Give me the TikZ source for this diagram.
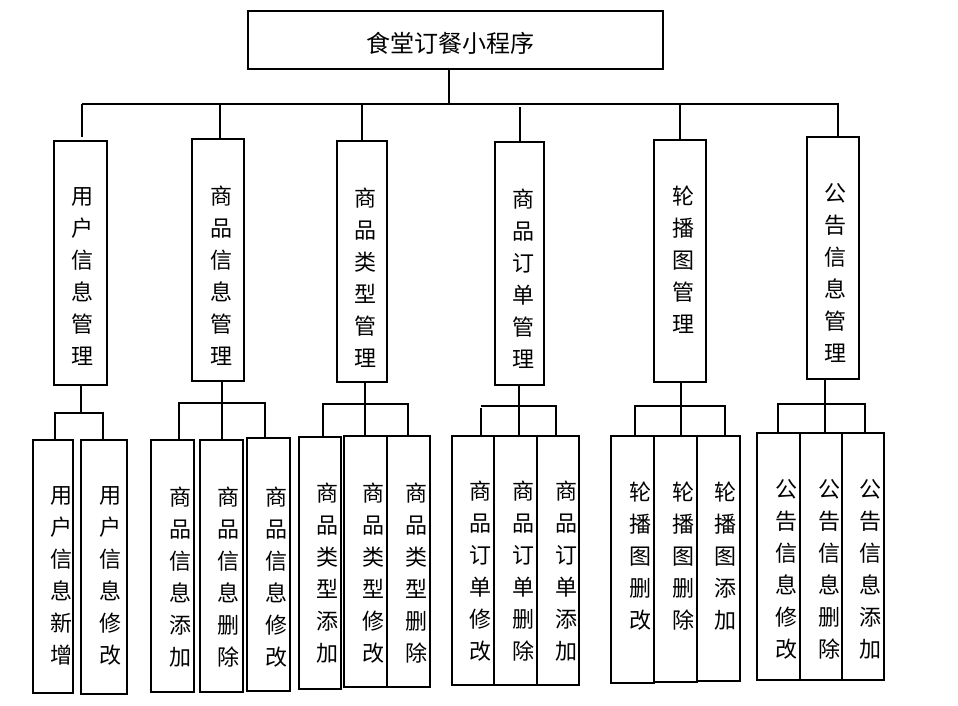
\documentclass[tikz,border=0pt]{standalone}
\usepackage{fontspec}
\newfontfamily\cjk{Noto Sans CJK SC}
\begin{document}
\begin{tikzpicture}[x=1pt,y=-1pt,
  box/.style={draw, line width=2.6pt, inner sep=0pt, fill=none},
  lbl/.style={font=\cjk\fontsize{22}{32}\selectfont, align=center, inner sep=0pt},
  ttl/.style={font=\cjk\fontsize{24}{28}\selectfont, inner sep=0pt},
  conn/.style={line width=2.6pt}]
\useasboundingbox (0,0) rectangle (958,705);
% top
\node[box, minimum width=415pt, minimum height=58pt] (top) at (455.5,40) {};
\node[ttl] (ttop) at (450,43) {食堂订餐小程序};
% level 2
\node[box, minimum width=53pt, minimum height=244pt] (b1) at (80.5,263) {};
\node[box, minimum width=52pt, minimum height=242pt] (b2) at (218,260) {};
\node[box, minimum width=50pt, minimum height=241pt] (b3) at (362,261.5) {};
\node[box, minimum width=49pt, minimum height=243pt] (b4) at (519.5,263.5) {};
\node[box, minimum width=52pt, minimum height=242pt] (b5) at (680,261) {};
\node[box, minimum width=52pt, minimum height=242pt] (b6) at (833,258) {};
\node[lbl] (t1) at (82,276.5) {用\\户\\信\\息\\管\\理};
\node[lbl] (t2) at (221,276) {商\\品\\信\\息\\管\\理};
\node[lbl] (t3) at (365,277.5) {商\\品\\类\\型\\管\\理};
\node[lbl] (t4) at (523,279) {商\\品\\订\\单\\管\\理};
\node[lbl] (t5) at (683,259.5) {轮\\播\\图\\管\\理};
\node[lbl] (t6) at (835,272.5) {公\\告\\信\\息\\管\\理};
% level 3 boxes
\node[box, minimum width=40pt, minimum height=253pt] (c1a) at (53,566.5) {};
\node[box, minimum width=46pt, minimum height=254pt] (c1b) at (104,567) {};
\node[box, minimum width=43pt, minimum height=252pt] (c2a) at (172.5,566) {};
\node[box, minimum width=43pt, minimum height=252pt] (c2b) at (221.5,566) {};
\node[box, minimum width=43pt, minimum height=253pt] (c2c) at (268.5,564.5) {};
\node[box, minimum width=42pt, minimum height=252pt] (c3a) at (320,563) {};
\node[box, minimum width=43pt, minimum height=251pt] (c3b) at (365.5,561.5) {};
\node[box, minimum width=43pt, minimum height=251pt] (c3c) at (408.5,561.5) {};
\node[box, minimum width=42pt, minimum height=249pt] (c4a) at (473,560.5) {};
\node[box, minimum width=43pt, minimum height=249pt] (c4b) at (515.5,560.5) {};
\node[box, minimum width=42pt, minimum height=249pt] (c4c) at (558,560.5) {};
\node[box, minimum width=43pt, minimum height=247pt] (c5a) at (632.5,559.5) {};
\node[box, minimum width=43pt, minimum height=246pt] (c5b) at (675.5,559) {};
\node[box, minimum width=43pt, minimum height=245pt] (c5c) at (718.5,558.5) {};
\node[box, minimum width=43pt, minimum height=247pt] (c6a) at (778.5,556.5) {};
\node[box, minimum width=42pt, minimum height=247pt] (c6b) at (821,556.5) {};
\node[box, minimum width=42pt, minimum height=247pt] (c6c) at (863,556.5) {};
% level 3 labels
\node[lbl] (u1a) at (61,576) {用\\户\\信\\息\\新\\增};
\node[lbl] (u1b) at (110,576) {用\\户\\信\\息\\修\\改};
\node[lbl] (u2a) at (180,577) {商\\品\\信\\息\\添\\加};
\node[lbl] (u2b) at (228,577) {商\\品\\信\\息\\删\\除};
\node[lbl] (u2c) at (276,577) {商\\品\\信\\息\\修\\改};
\node[lbl] (u3a) at (327,573.5) {商\\品\\类\\型\\添\\加};
\node[lbl] (u3b) at (373,573.5) {商\\品\\类\\型\\修\\改};
\node[lbl] (u3c) at (416,573.5) {商\\品\\类\\型\\删\\除};
\node[lbl] (u4a) at (480,571.5) {商\\品\\订\\单\\修\\改};
\node[lbl] (u4b) at (523,571.5) {商\\品\\订\\单\\删\\除};
\node[lbl] (u4c) at (566,571.5) {商\\品\\订\\单\\添\\加};
\node[lbl] (u5a) at (640,556) {轮\\播\\图\\删\\改};
\node[lbl] (u5b) at (683,556) {轮\\播\\图\\删\\除};
\node[lbl] (u5c) at (725,556) {轮\\播\\图\\添\\加};
\node[lbl] (u6a) at (786,569) {公\\告\\信\\息\\修\\改};
\node[lbl] (u6b) at (829,569) {公\\告\\信\\息\\删\\除};
\node[lbl] (u6c) at (870,569) {公\\告\\信\\息\\添\\加};
% top bus
\coordinate (j0) at (449,104);
\coordinate (busL) at (82,104);
\coordinate (busR) at (839,104);
\coordinate (s1) at (82,104);
\coordinate (s2) at (220,104);
\coordinate (s3) at (362,104);
\coordinate (s4) at (520,107);
\coordinate (s5) at (680,104);
\coordinate (s6) at (838,104);
\draw[conn] (top.south -| j0) -- (j0);
\draw[conn] (busL) -- (busR);
\draw[conn] (s1) -- ([yshift=3pt]s1 |- b1.north);
\draw[conn] (s2) -- (s2 |- b2.north);
\draw[conn] (s3) -- (s3 |- b3.north);
\draw[conn] (s4) -- (s4 |- b4.north);
\draw[conn] (s5) -- (s5 |- b5.north);
\draw[conn] (s6) -- (s6 |- b6.north);
% group 1
\coordinate (h1m) at (81,413);
\coordinate (h1l) at (55,413);
\coordinate (h1r) at (103,413);
\draw[conn] (b1.south -| h1m) -- (h1m);
\draw[conn] (h1l |- c1a.north) -- (h1l) -- (h1r) -- (h1r |- c1b.north);
% group 2
\coordinate (h2m) at (222,403);
\coordinate (h2l) at (179,403);
\coordinate (h2r) at (265,403);
\draw[conn] (b2.south -| h2m) -- (h2m |- c2b.north);
\draw[conn] (h2l |- c2a.north) -- (h2l) -- (h2r) -- (h2r |- c2c.north);
% group 3
\coordinate (h3m) at (365,404);
\coordinate (h3l) at (323,404);
\coordinate (h3r) at (408,404);
\draw[conn] (b3.south -| h3m) -- (h3m |- c3b.north);
\draw[conn] (h3l |- c3a.north) -- (h3l) -- (h3r) -- (h3r |- c3c.north);
% group 4
\coordinate (h4m) at (519,406);
\coordinate (h4l) at (481,406);
\coordinate (h4r) at (556,406);
\draw[conn] (b4.south -| h4m) -- (h4m |- c4b.north);
\draw[conn] (h4l |- c4a.north) -- ([yshift=-2pt]h4l);
\draw[conn] (h4l) -- (h4r) -- (h4r |- c4c.north);
% group 5
\coordinate (h5m) at (681,406);
\coordinate (h5l) at (635,406);
\coordinate (h5r) at (725,406);
\draw[conn] (b5.south -| h5m) -- (h5m |- c5b.north);
\draw[conn] (h5l |- c5a.north) -- (h5l) -- (h5r) -- (h5r |- c5c.north);
% group 6
\coordinate (h6m) at (825,404);
\coordinate (h6l) at (778,404);
\coordinate (h6r) at (865,404);
\draw[conn] (b6.south -| h6m) -- (h6m |- c6b.north);
\draw[conn] (h6l |- c6a.north) -- (h6l) -- (h6r) -- (h6r |- c6c.north);
\end{tikzpicture}
\end{document}
